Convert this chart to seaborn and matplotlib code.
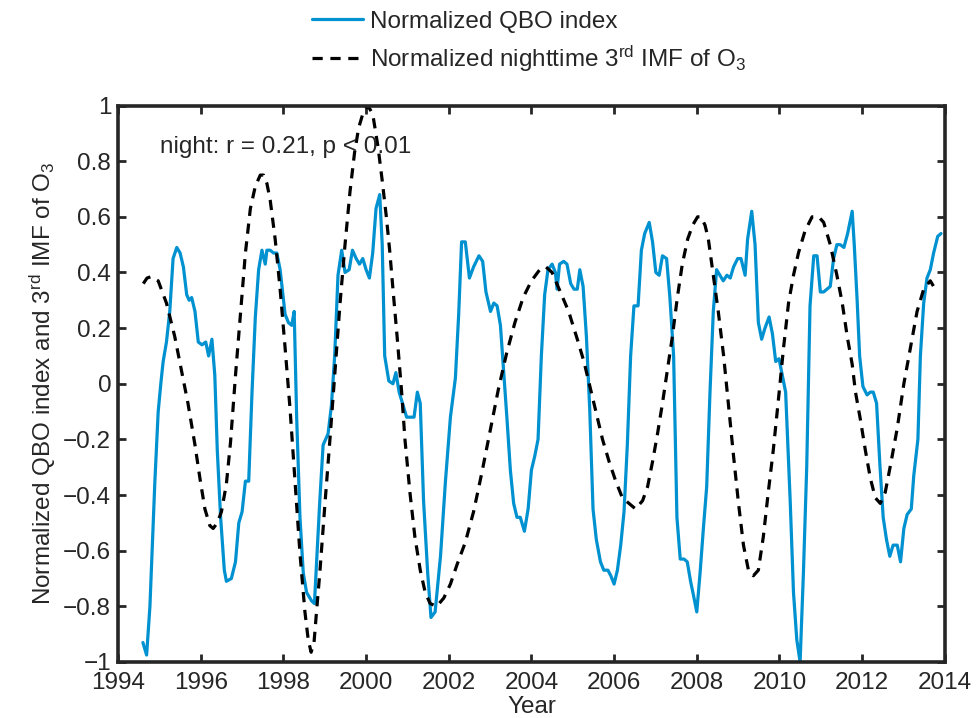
import matplotlib
matplotlib.use("Agg")
import matplotlib.pyplot as plt
import seaborn as sns
import pandas as pd

# Normalized QBO index (decimal year, value)
qbo_year = [
    1994.60, 1994.69, 1994.77, 1994.89, 1994.97, 1995.04, 1995.09, 1995.17, 1995.25, 1995.33,
    1995.42, 1995.50, 1995.58, 1995.66, 1995.72, 1995.78, 1995.86, 1995.94, 1996.03, 1996.12,
    1996.19, 1996.27, 1996.34, 1996.40, 1996.48, 1996.57, 1996.62, 1996.74, 1996.84, 1996.92,
    1997.00, 1997.08, 1997.16, 1997.24, 1997.32, 1997.40, 1997.48, 1997.56, 1997.60, 1997.68,
    1997.76, 1997.84, 1997.92, 1998.04, 1998.12, 1998.20, 1998.26, 1998.32, 1998.40, 1998.48,
    1998.56, 1998.68, 1998.75, 1998.80, 1998.88, 1998.96, 1999.08, 1999.16, 1999.24, 1999.32,
    1999.41, 1999.49, 1999.59, 1999.67, 1999.76, 1999.84, 1999.92, 2000.00, 2000.08, 2000.16,
    2000.24, 2000.33, 2000.39, 2000.45, 2000.55, 2000.65, 2000.72, 2000.80, 2000.90, 2000.98,
    2001.06, 2001.16, 2001.24, 2001.31, 2001.39, 2001.49, 2001.57, 2001.67, 2001.80, 2001.92,
    2002.04, 2002.16, 2002.24, 2002.31, 2002.40, 2002.50, 2002.60, 2002.73, 2002.82, 2002.90,
    2003.01, 2003.09, 2003.17, 2003.25, 2003.33, 2003.41, 2003.49, 2003.57, 2003.65, 2003.73,
    2003.83, 2003.92, 2004.00, 2004.08, 2004.16, 2004.24, 2004.32, 2004.40, 2004.50, 2004.58,
    2004.62, 2004.68, 2004.78, 2004.86, 2004.95, 2005.03, 2005.11, 2005.17, 2005.25, 2005.33,
    2005.41, 2005.49, 2005.57, 2005.67, 2005.75, 2005.85, 2005.92, 2006.00, 2006.08, 2006.16,
    2006.24, 2006.32, 2006.40, 2006.48, 2006.58, 2006.66, 2006.74, 2006.85, 2006.93, 2007.01,
    2007.09, 2007.17, 2007.27, 2007.35, 2007.44, 2007.52, 2007.60, 2007.69, 2007.77, 2007.85,
    2007.92, 2008.00, 2008.08, 2008.16, 2008.24, 2008.32, 2008.40, 2008.48, 2008.56, 2008.64,
    2008.73, 2008.81, 2008.89, 2008.99, 2009.07, 2009.17, 2009.23, 2009.33, 2009.41, 2009.49,
    2009.57, 2009.65, 2009.75, 2009.83, 2009.91, 2009.99, 2010.07, 2010.15, 2010.26, 2010.34,
    2010.42, 2010.50, 2010.58, 2010.66, 2010.74, 2010.83, 2010.91, 2010.99, 2011.07, 2011.15,
    2011.23, 2011.31, 2011.39, 2011.47, 2011.56, 2011.65, 2011.76, 2011.81, 2011.88, 2011.94,
    2012.02, 2012.12, 2012.20, 2012.27, 2012.35, 2012.43, 2012.51, 2012.59, 2012.67, 2012.75,
    2012.85, 2012.93, 2013.01, 2013.09, 2013.19, 2013.25, 2013.35, 2013.41, 2013.49, 2013.57,
    2013.65, 2013.73, 2013.83, 2013.91,
]
qbo_value = [
    -0.93, -0.975, -0.80, -0.35, -0.10, 0.01, 0.08, 0.15, 0.26, 0.45,
    0.49, 0.47, 0.42, 0.32, 0.30, 0.31, 0.26, 0.15, 0.14, 0.15,
    0.10, 0.16, 0.03, -0.24, -0.48, -0.67, -0.71, -0.70, -0.64, -0.50,
    -0.46, -0.35, -0.35, -0.03, 0.24, 0.41, 0.48, 0.43, 0.48, 0.48,
    0.47, 0.47, 0.41, 0.25, 0.22, 0.21, 0.26, -0.12, -0.48, -0.68,
    -0.75, -0.78, -0.79, -0.65, -0.42, -0.22, -0.18, -0.08, 0.10, 0.39,
    0.48, 0.40, 0.41, 0.48, 0.45, 0.43, 0.45, 0.41, 0.38, 0.47,
    0.63, 0.68, 0.50, 0.10, 0.01, 0.00, 0.04, -0.03, -0.08, -0.12,
    -0.12, -0.12, -0.03, -0.07, -0.42, -0.68, -0.84, -0.82, -0.62, -0.35,
    -0.12, 0.02, 0.25, 0.51, 0.51, 0.38, 0.42, 0.46, 0.44, 0.33,
    0.26, 0.29, 0.28, 0.21, 0.04, -0.13, -0.31, -0.43, -0.48, -0.48,
    -0.53, -0.45, -0.31, -0.26, -0.20, 0.10, 0.32, 0.41, 0.43, 0.40,
    0.34, 0.43, 0.44, 0.43, 0.36, 0.34, 0.34, 0.41, 0.35, 0.17,
    -0.09, -0.45, -0.56, -0.64, -0.67, -0.67, -0.69, -0.72, -0.67, -0.58,
    -0.46, -0.22, 0.10, 0.28, 0.28, 0.48, 0.54, 0.58, 0.51, 0.40,
    0.39, 0.46, 0.45, 0.31, 0.10, -0.48, -0.63, -0.63, -0.64, -0.71,
    -0.76, -0.82, -0.68, -0.52, -0.37, -0.03, 0.26, 0.41, 0.39, 0.37,
    0.39, 0.38, 0.42, 0.45, 0.45, 0.39, 0.52, 0.62, 0.50, 0.22,
    0.16, 0.20, 0.24, 0.18, 0.08, 0.09, 0.03, -0.03, -0.42, -0.75,
    -0.92, -1.00, -0.68, -0.30, 0.28, 0.46, 0.46, 0.33, 0.33, 0.34,
    0.35, 0.45, 0.50, 0.50, 0.49, 0.54, 0.62, 0.50, 0.30, 0.10,
    -0.01, -0.04, -0.03, -0.03, -0.07, -0.29, -0.48, -0.56, -0.62, -0.58,
    -0.58, -0.64, -0.52, -0.47, -0.45, -0.33, -0.20, 0.10, 0.29, 0.38,
    0.41, 0.47, 0.53, 0.54,
]

# Normalized nighttime 3rd IMF of O3 (decimal year, value)
imf_year = [
    1994.61, 1994.70, 1994.80, 1994.97, 1995.17, 1995.37, 1995.53, 1995.69, 1995.86, 1995.98,
    1996.10, 1996.22, 1996.30, 1996.40, 1996.50, 1996.62, 1996.72, 1996.84, 1996.96, 1997.08,
    1997.20, 1997.32, 1997.44, 1997.52, 1997.60, 1997.68, 1997.80, 1997.92, 1998.04, 1998.16,
    1998.28, 1998.40, 1998.52, 1998.60, 1998.67, 1998.74, 1998.80, 1998.88, 1999.00, 1999.12,
    1999.24, 1999.37, 1999.49, 1999.61, 1999.72, 1999.82, 1999.92, 2000.04, 2000.16, 2000.29,
    2000.39, 2000.49, 2000.57, 2000.65, 2000.75, 2000.86, 2000.94, 2001.06, 2001.18, 2001.31,
    2001.43, 2001.55, 2001.71, 2001.88, 2002.04, 2002.20, 2002.40, 2002.60, 2002.80, 2003.00,
    2003.20, 2003.40, 2003.60, 2003.80, 2004.00, 2004.20, 2004.35, 2004.50, 2004.70, 2004.90,
    2005.11, 2005.27, 2005.40, 2005.56, 2005.72, 2005.88, 2006.04, 2006.20, 2006.36, 2006.52,
    2006.69, 2006.81, 2006.93, 2007.05, 2007.17, 2007.29, 2007.41, 2007.53, 2007.65, 2007.78,
    2007.90, 2008.02, 2008.10, 2008.20, 2008.28, 2008.40, 2008.52, 2008.65, 2008.77, 2008.89,
    2009.01, 2009.13, 2009.25, 2009.37, 2009.49, 2009.61, 2009.73, 2009.85, 2009.98, 2010.10,
    2010.22, 2010.34, 2010.46, 2010.62, 2010.79, 2010.95, 2011.07, 2011.23, 2011.39, 2011.52,
    2011.64, 2011.76, 2011.84, 2011.96, 2012.08, 2012.20, 2012.32, 2012.44, 2012.56, 2012.69,
    2012.85, 2013.01, 2013.17, 2013.33, 2013.49, 2013.65, 2013.81,
]
imf_value = [
    0.36, 0.38, 0.385, 0.37, 0.29, 0.17, 0.05, -0.07, -0.22, -0.34,
    -0.45, -0.51, -0.52, -0.50, -0.46, -0.36, -0.21, 0.03, 0.25, 0.47,
    0.63, 0.71, 0.75, 0.75, 0.72, 0.66, 0.52, 0.34, 0.13, -0.09,
    -0.35, -0.61, -0.82, -0.92, -0.965, -0.93, -0.82, -0.68, -0.44, -0.21,
    0.03, 0.29, 0.50, 0.69, 0.83, 0.92, 0.97, 1.00, 0.97, 0.85,
    0.73, 0.60, 0.48, 0.34, 0.17, -0.03, -0.20, -0.39, -0.55, -0.67,
    -0.75, -0.79, -0.80, -0.77, -0.72, -0.65, -0.57, -0.46, -0.32, -0.17,
    -0.02, 0.11, 0.22, 0.31, 0.37, 0.41, 0.42, 0.40, 0.33, 0.26,
    0.16, 0.08, 0.00, -0.10, -0.20, -0.28, -0.35, -0.41, -0.43, -0.45,
    -0.42, -0.37, -0.28, -0.18, -0.07, 0.05, 0.17, 0.31, 0.43, 0.52,
    0.57, 0.60, 0.60, 0.57, 0.52, 0.39, 0.26, 0.10, -0.08, -0.26,
    -0.43, -0.58, -0.67, -0.69, -0.67, -0.55, -0.39, -0.24, -0.05, 0.13,
    0.29, 0.39, 0.47, 0.55, 0.60, 0.60, 0.58, 0.50, 0.39, 0.29,
    0.17, 0.07, -0.03, -0.13, -0.24, -0.34, -0.41, -0.43, -0.39, -0.29,
    -0.16, 0.00, 0.13, 0.26, 0.34, 0.37, 0.33,
]

x_ticks = list(range(1994, 2015, 2))
y_ticks = [-1, -0.8, -0.6, -0.4, -0.2, 0, 0.2, 0.4, 0.6, 0.8, 1]
y_tick_labels = ["\u22121", "\u22120.8", "\u22120.6", "\u22120.4", "\u22120.2", "0",
                 "0.2", "0.4", "0.6", "0.8", "1"]

FS = 17.5

sns.set_style("ticks")
plt.rcParams["font.family"] = ["Liberation Sans", "DejaVu Sans"]
plt.rcParams["mathtext.fontset"] = "custom"
plt.rcParams["mathtext.rm"] = "Liberation Sans"
plt.rcParams["mathtext.it"] = "Liberation Sans:italic"
plt.rcParams["mathtext.bf"] = "Liberation Sans:bold"

qbo_df = pd.DataFrame({"Year": qbo_year, "value": qbo_value})
imf_df = pd.DataFrame({"Year": imf_year, "value": imf_value})

fig = plt.figure(figsize=(9.76, 7.18), dpi=100)
ax = fig.add_axes([0.121, 0.078, 0.847, 0.775])

sns.lineplot(data=qbo_df, x="Year", y="value", ax=ax, color="#0091D0",
             linewidth=2.3, label="Normalized QBO index")
sns.lineplot(data=imf_df, x="Year", y="value", ax=ax, color="black",
             linewidth=2.3, linestyle=(0, (3.2, 2.4)),
             label=r"Normalized nighttime 3$^{\rm rd}$ IMF of O$_3$")

ax.set_xlim(1994, 2014)
ax.set_ylim(-1, 1)
ax.set_xticks(x_ticks)
ax.set_xticklabels([str(t) for t in x_ticks])
ax.set_yticks(y_ticks)
ax.set_yticklabels(y_tick_labels)

ax.tick_params(direction="in", length=5.5, width=2.0, labelsize=FS,
               top=True, right=True)
ax.tick_params(axis="x", pad=7)
ax.tick_params(axis="y", pad=5)
for side in ax.spines.values():
    side.set_linewidth(2.6)
    side.set_visible(True)

ax.set_xlabel("Year", fontsize=FS, labelpad=2)
ax.set_ylabel(r"Normalized QBO index and 3$^{\rm rd}$ IMF of O$_3$", fontsize=FS,
              labelpad=4)

ax.text(1995.02, 0.85, "night: r = 0.21, p < 0.01", fontsize=FS,
        ha="left", va="center")

handles, labels = ax.get_legend_handles_labels()
ax.get_legend().remove()
fig.legend(handles=handles, labels=labels,
           loc="upper center", bbox_to_anchor=(0.542, 0.99), frameon=False,
           fontsize=FS, handlelength=2.1, handletextpad=0.3,
           labelspacing=0.45, borderpad=0.15, borderaxespad=0.0)

fig.savefig("out.png", dpi=100)
